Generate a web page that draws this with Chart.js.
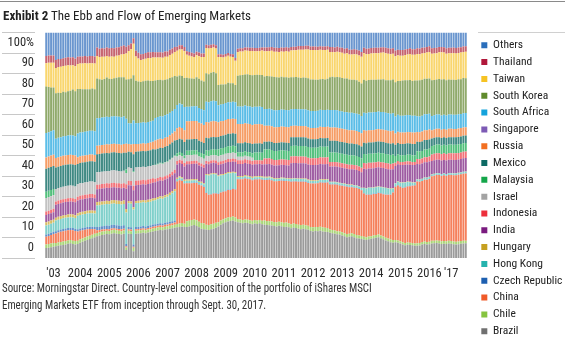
<!DOCTYPE html>
<html>
<head>
<meta charset="utf-8">
<script src="https://cdn.jsdelivr.net/npm/chart.js@4.4.1/dist/chart.umd.min.js"></script>
<style>
  html, body { margin: 0; padding: 0; background: #fff; }
  #wrap { position: relative; width: 565px; height: 344px; overflow: hidden;
          font-family: 'Roboto Condensed', 'Liberation Sans', sans-serif; color: #222; }
  #c { position: absolute; left: 0; top: 0; }
  #rule { position: absolute; left: 0; top: 1px; width: 565px; height: 1px; background: #8a8a8a; }
  #title { position: absolute; left: 3px; top: 9px; font-size: 13px; line-height: 14px; white-space: nowrap; }
  #title b { font-weight: 700; }
  #legendRule { position: absolute; left: 478px; top: 32px; width: 87px; height: 1px; background: #d0d0d0; }
  #note { position: absolute; left: 2px; top: 280px; font-size: 12px; line-height: 17px; color: #333;
          white-space: nowrap; transform: scaleX(0.907); transform-origin: 0 0; }
</style>
</head>
<body>
<div id="wrap">
  <canvas id="c" width="565" height="344"></canvas>
  <div id="rule"></div>
  <div id="title"><b>Exhibit 2</b> The Ebb and Flow of Emerging Markets</div>
  <div id="legendRule"></div>
  <div id="note">Source: Morningstar Direct. Country-level composition of the portfolio of iShares MSCI<br>Emerging Markets ETF from inception through Sept. 30, 2017.</div>
</div>
<script>
// Monthly country weights (%) of the fund, April 2003 through September 2017.
// Each row below is one calendar year (2003 starts in April, 2017 ends in September).

const brazil = [
  4.4, 4.6, 4.8, 5.0, 5.2, 5.4, 5.6, 5.8, 6.0,
  6.3, 6.5, 6.2, 6.0, 6.2, 6.8, 7.2, 7.6, 8.0, 8.4, 8.8, 9.2,
  9.6, 9.9, 10.2, 10.4, 10.6, 10.5, 10.8, 11.0, 10.8, 10.6, 10.4, 10.7,
  3.5, 10.8, 10.6, 3.0, 10.8, 10.9, 11.0, 11.2, 11.0, 11.3, 11.5, 11.8,
  12.0, 12.2, 12.4, 12.3, 12.6, 12.8, 13.0, 13.2, 13.4, 13.6, 13.8, 14.0,
  13.7, 13.8, 14.0, 14.3, 14.6, 14.2, 13.6, 13.0, 12.8, 12.6, 12.4, 12.8,
  13.0, 13.4, 14.0, 14.8, 15.4, 15.8, 16.2, 16.4, 16.6, 16.2, 15.8, 15.6,
  15.4, 15.6, 15.5, 15.2, 15.0, 15.3, 15.1, 15.4, 15.0, 14.8, 14.6, 14.5,
  14.4, 14.2, 14.0, 14.3, 14.1, 13.8, 13.9, 13.6, 13.2, 13.5, 13.3, 13.0,
  12.8, 13.0, 12.7, 12.5, 12.0, 11.8, 12.0, 11.9, 12.1, 11.8, 11.6, 11.5,
  11.2, 11.0, 10.8, 10.5, 10.4, 10.0, 9.6, 9.2, 9.4, 9.6, 9.2, 8.8,
  8.6, 8.4, 8.2, 8.0, 8.3, 8.5, 8.8, 9.0, 9.2, 8.8, 8.3, 7.8,
  7.4, 7.0, 6.8, 7.0, 6.8, 6.4, 6.0, 5.7, 5.9, 5.8, 5.6, 5.4,
  5.4, 5.5, 6.0, 6.2, 6.0, 6.1, 6.4, 6.5, 6.6, 6.4, 6.2, 6.3,
  6.2, 6.4, 6.3, 6.1, 6.0, 6.1, 6.3, 6.4, 6.5
];

const chile = [
  1.6, 1.6, 1.6, 1.6, 1.5, 1.5, 1.5, 1.5, 1.5,
  1.5, 1.5, 1.5, 1.5, 1.5, 1.5, 1.5, 1.5, 1.5, 1.5, 1.5, 1.5,
  1.5, 1.5, 1.5, 1.5, 1.5, 1.5, 1.5, 1.5, 1.5, 1.5, 1.5, 1.5,
  1.2, 1.3, 1.3, 1.5, 1.3, 1.3, 1.3, 1.3, 1.3, 1.3, 1.3, 1.3,
  1.3, 1.3, 1.3, 1.3, 1.3, 1.3, 1.3, 1.3, 1.3, 1.5, 1.5, 1.5,
  1.5, 2.5, 2.5, 2.5, 2.5, 2.5, 2.5, 2.5, 2.5, 2.2, 2.2, 2.2,
  2.2, 2.2, 1.8, 1.8, 1.8, 1.8, 1.8, 1.8, 1.8, 1.8, 1.5, 1.5,
  1.5, 1.5, 1.5, 1.5, 1.5, 1.5, 1.5, 1.5, 1.5, 1.8, 1.8, 1.8,
  1.8, 1.8, 1.8, 1.8, 1.8, 1.8, 1.8, 1.8, 1.8, 1.8, 1.8, 1.8,
  1.8, 1.8, 1.8, 1.8, 1.8, 1.8, 1.8, 1.8, 1.8, 1.8, 1.8, 1.8,
  1.4, 1.4, 1.4, 1.4, 1.4, 1.4, 1.4, 1.4, 1.4, 1.4, 1.4, 1.4,
  1.4, 1.4, 1.2, 1.2, 1.2, 1.2, 1.2, 1.2, 1.2, 1.2, 1.2, 1.2,
  1.2, 1.2, 1.2, 1.0, 1.0, 1.0, 1.0, 1.0, 1.0, 1.0, 1.0, 1.0,
  1.1, 1.1, 1.1, 1.1, 1.1, 1.1, 1.2, 1.2, 1.2, 1.2, 1.2, 1.2,
  1.2, 1.2, 1.2, 1.2, 1.2, 1.2, 1.2, 1.2, 1.2
];

const china = [
  3.4, 3.6, 3.8, 4.0, 4.2, 4.4, 4.5, 4.6, 4.6,
  4.5, 4.4, 4.6, 4.5, 4.0, 3.8, 3.6, 3.4, 3.2, 3.0, 2.6, 2.0,
  1.2, 1.0, 0.9, 0.8, 0.8, 0.8, 0.8, 0.7, 0.7, 0.8, 0.8, 0.8,
  0.5, 0.7, 0.7, 0.5, 0.7, 0.7, 0.7, 0.7, 0.7, 0.7, 0.7, 0.8,
  0.8, 0.8, 0.8, 0.8, 0.8, 0.8, 0.9, 0.9, 1.0, 18.8, 19.2, 18.6,
  17.8, 16.8, 16.6, 16.4, 16.2, 16.6, 16.4, 16.6, 16.2, 14.0, 13.4, 13.2,
  13.4, 13.0, 12.6, 12.4, 12.2, 12.0, 12.2, 12.0, 12.2, 12.4, 17.6, 17.8,
  18.0, 18.2, 18.0, 18.2, 18.0, 18.0, 18.2, 18.0, 18.2, 18.0, 18.2, 18.4,
  18.2, 18.0, 18.2, 18.0, 18.4, 18.6, 18.4, 18.6, 18.8, 18.6, 18.8, 19.0,
  19.2, 19.0, 19.2, 19.0, 19.2, 19.4, 19.2, 19.4, 19.6, 19.8, 20.0, 20.2,
  20.0, 20.2, 20.4, 20.6, 20.4, 20.6, 20.8, 21.0, 20.6, 20.4, 20.6, 20.8,
  20.6, 20.2, 19.2, 18.8, 18.6, 18.4, 18.4, 18.2, 18.4, 18.6, 18.8, 19.0,
  19.4, 19.8, 21.0, 23.6, 24.4, 24.2, 24.0, 24.6, 24.8, 25.0, 25.4, 25.8,
  27.4, 27.2, 27.0, 27.4, 27.6, 27.8, 28.6, 28.8, 29.0, 29.2, 29.0, 29.2,
  29.0, 29.2, 29.3, 29.4, 29.5, 29.6, 29.6, 29.8, 29.8
];

const czechRepublic = [
  1.0, 1.0, 1.0, 1.0, 1.0, 1.0, 1.0, 1.0, 1.0,
  1.0, 1.0, 1.0, 1.0, 1.0, 1.0, 1.0, 1.0, 1.0, 1.0, 1.0, 1.0,
  1.5, 1.5, 1.5, 1.5, 1.5, 1.5, 1.5, 1.5, 1.5, 1.5, 1.5, 1.5,
  1.0, 1.0, 1.0, 1.0, 1.0, 1.0, 1.0, 1.0, 1.0, 1.0, 1.0, 1.0,
  0.9, 0.9, 0.9, 0.9, 0.9, 0.9, 0.9, 0.9, 0.9, 0.3, 0.3, 0.3,
  0.3, 0.2, 0.2, 0.2, 0.2, 0.2, 0.2, 0.2, 0.2, 0.2, 0.2, 0.2,
  0.2, 0.2, 0.2, 0.2, 0.2, 0.2, 0.2, 0.2, 0.2, 0.2, 0.2, 0.2,
  0.2, 0.2, 0.2, 0.2, 0.2, 0.2, 0.2, 0.2, 0.2, 0.2, 0.2, 0.2,
  0.2, 0.2, 0.2, 0.2, 0.2, 0.2, 0.2, 0.2, 0.2, 0.2, 0.2, 0.2,
  0.2, 0.2, 0.2, 0.2, 0.2, 0.2, 0.2, 0.2, 0.2, 0.2, 0.2, 0.2,
  0.2, 0.2, 0.2, 0.2, 0.2, 0.2, 0.2, 0.2, 0.2, 0.2, 0.2, 0.2,
  0.2, 0.2, 0.2, 0.2, 0.2, 0.2, 0.2, 0.2, 0.2, 0.2, 0.2, 0.2,
  0.2, 0.2, 0.2, 0.2, 0.2, 0.2, 0.2, 0.2, 0.2, 0.2, 0.2, 0.2,
  0.1, 0.1, 0.1, 0.1, 0.1, 0.1, 0.1, 0.1, 0.1, 0.1, 0.1, 0.1,
  0.1, 0.1, 0.1, 0.1, 0.1, 0.1, 0.1, 0.1, 0.1
];

const hongKong = [
  4.0, 4.0, 4.0, 4.0, 4.7, 4.7, 4.7, 4.7, 4.7,
  4.7, 4.7, 4.7, 4.7, 6.0, 6.0, 6.0, 6.0, 6.0, 6.0, 6.0, 6.0,
  9.5, 9.5, 9.5, 9.5, 9.5, 9.5, 9.5, 9.5, 9.5, 9.5, 9.5, 9.5,
  14.0, 10.5, 10.5, 15.5, 10.5, 10.5, 10.5, 10.5, 10.5, 10.5, 10.5, 10.5,
  10.6, 10.8, 11.0, 11.0, 11.2, 11.4, 11.8, 12.4, 13.0, 0.8, 0.8, 0.8,
  0.8, 1.0, 1.0, 1.0, 1.0, 1.0, 1.0, 1.0, 1.0, 7.8, 8.4, 8.6,
  8.4, 8.2, 7.6, 7.4, 7.2, 7.4, 7.2, 7.2, 7.0, 7.0, 0.8, 0.8,
  0.8, 0.8, 0.8, 0.8, 0.8, 0.8, 0.8, 0.8, 0.8, 0.8, 0.8, 0.8,
  0.8, 0.8, 0.8, 0.8, 0.8, 0.8, 0.8, 0.8, 1.0, 1.0, 1.0, 1.0,
  1.0, 1.0, 1.0, 1.0, 1.0, 1.0, 1.0, 1.0, 1.0, 1.0, 1.0, 1.0,
  0.8, 0.8, 0.8, 0.8, 0.8, 0.8, 0.8, 0.8, 0.8, 0.8, 0.8, 0.8,
  0.8, 0.8, 2.2, 2.6, 2.8, 2.8, 2.6, 2.8, 2.6, 2.6, 2.8, 2.8,
  2.6, 2.4, 1.6, 1.2, 1.4, 1.6, 2.2, 2.0, 1.8, 1.6, 1.2, 1.0,
  0.8, 0.8, 0.8, 0.8, 0.8, 0.8, 0.7, 0.7, 0.7, 0.7, 0.7, 0.7,
  0.7, 0.7, 0.7, 0.7, 0.7, 0.7, 0.7, 0.7, 0.7
];

const hungary = [
  1.4, 1.4, 1.4, 1.4, 1.3, 1.3, 1.3, 1.3, 1.3,
  1.3, 1.3, 1.3, 1.3, 1.2, 1.2, 1.2, 1.2, 1.2, 1.2, 1.2, 1.2,
  1.5, 1.5, 1.5, 1.5, 1.5, 1.5, 1.5, 1.5, 1.5, 1.5, 1.5, 1.5,
  1.5, 1.0, 1.0, 1.0, 1.0, 1.0, 1.0, 1.0, 1.0, 1.0, 1.0, 1.0,
  1.0, 1.0, 1.0, 1.0, 1.0, 1.0, 1.0, 1.0, 1.0, 0.6, 0.6, 0.6,
  0.6, 0.5, 0.5, 0.5, 0.5, 0.5, 0.5, 0.5, 0.5, 0.5, 0.5, 0.5,
  0.5, 0.5, 0.5, 0.5, 0.5, 0.5, 0.5, 0.5, 0.5, 0.5, 0.5, 0.5,
  0.5, 0.5, 0.5, 0.5, 0.5, 0.5, 0.5, 0.5, 0.5, 0.4, 0.4, 0.4,
  0.4, 0.4, 0.4, 0.4, 0.4, 0.4, 0.4, 0.4, 0.3, 0.3, 0.3, 0.3,
  0.3, 0.3, 0.3, 0.3, 0.3, 0.3, 0.3, 0.3, 0.3, 0.3, 0.3, 0.3,
  0.2, 0.2, 0.2, 0.2, 0.2, 0.2, 0.2, 0.2, 0.2, 0.2, 0.2, 0.2,
  0.2, 0.2, 0.2, 0.2, 0.2, 0.2, 0.2, 0.2, 0.2, 0.2, 0.2, 0.2,
  0.2, 0.2, 0.2, 0.2, 0.2, 0.2, 0.2, 0.2, 0.2, 0.2, 0.2, 0.2,
  0.1, 0.1, 0.1, 0.1, 0.1, 0.1, 0.1, 0.1, 0.1, 0.1, 0.1, 0.1,
  0.1, 0.1, 0.1, 0.1, 0.1, 0.1, 0.1, 0.1, 0.1
];

const india = [
  3.3, 3.3, 3.3, 3.3, 5.7, 5.7, 5.7, 5.7, 5.7,
  5.7, 5.7, 5.7, 5.7, 5.6, 5.6, 5.6, 5.6, 5.6, 5.6, 5.6, 5.6,
  5.7, 5.7, 5.7, 5.7, 5.7, 5.7, 5.7, 5.7, 5.7, 5.7, 5.7, 5.7,
  9.0, 7.0, 7.0, 7.5, 7.0, 7.0, 7.0, 7.0, 7.0, 7.0, 7.0, 7.0,
  7.0, 7.0, 7.0, 7.0, 7.0, 7.0, 7.0, 7.0, 7.0, 5.9, 5.9, 5.9,
  5.9, 6.8, 6.8, 6.8, 6.8, 6.8, 6.8, 6.8, 6.8, 4.5, 4.5, 4.5,
  4.5, 4.5, 4.5, 4.5, 4.5, 4.5, 4.5, 4.5, 4.5, 4.5, 5.3, 5.3,
  5.3, 5.3, 5.3, 5.3, 5.3, 5.3, 5.3, 5.3, 5.3, 5.6, 5.6, 5.6,
  5.6, 5.6, 5.6, 5.6, 5.6, 5.6, 5.6, 5.6, 6.7, 6.7, 6.7, 6.7,
  6.7, 6.7, 6.7, 6.7, 6.7, 6.7, 6.7, 6.7, 6.7, 6.7, 6.7, 6.7,
  6.8, 6.8, 6.8, 6.8, 6.8, 6.8, 6.8, 6.8, 6.8, 6.8, 6.8, 6.8,
  6.8, 6.8, 8.4, 8.4, 8.4, 8.4, 8.4, 8.4, 8.4, 8.4, 8.4, 8.4,
  8.4, 8.4, 8.4, 7.6, 7.6, 7.6, 7.6, 7.6, 7.6, 7.6, 7.6, 7.6,
  6.8, 6.8, 6.8, 6.8, 6.8, 6.8, 5.9, 5.9, 5.9, 5.9, 5.9, 5.9,
  5.9, 5.9, 5.9, 5.9, 5.9, 5.9, 5.9, 5.9, 5.9
];

const indonesia = [
  1.5, 1.5, 1.5, 1.5, 1.5, 1.5, 1.5, 1.5, 1.5,
  1.5, 1.5, 1.5, 1.5, 1.7, 1.7, 1.7, 1.7, 1.7, 1.7, 1.7, 1.7,
  2.0, 2.0, 2.0, 2.0, 2.0, 2.0, 2.0, 2.0, 2.0, 2.0, 2.0, 2.0,
  2.0, 2.0, 2.0, 2.0, 2.0, 2.0, 2.0, 2.0, 2.0, 2.0, 2.0, 2.0,
  1.5, 1.5, 1.5, 1.5, 1.5, 1.5, 1.5, 1.5, 1.5, 1.5, 1.5, 1.5,
  1.5, 1.3, 1.3, 1.3, 1.3, 1.3, 1.3, 1.3, 1.3, 1.2, 1.2, 1.2,
  1.2, 1.2, 1.3, 1.3, 1.3, 1.3, 1.3, 1.3, 1.3, 1.3, 1.7, 1.7,
  1.7, 1.7, 1.7, 1.7, 1.7, 1.7, 1.7, 1.7, 1.7, 2.5, 2.5, 2.5,
  2.5, 2.5, 2.5, 2.5, 2.5, 2.5, 2.5, 2.5, 3.0, 3.0, 3.0, 3.0,
  3.0, 3.0, 3.0, 3.0, 3.0, 3.0, 3.0, 3.0, 3.0, 3.0, 3.0, 3.0,
  2.0, 2.0, 2.0, 2.0, 2.0, 2.0, 2.0, 2.0, 2.0, 2.0, 2.0, 2.0,
  2.0, 2.0, 2.5, 2.5, 2.5, 2.5, 2.5, 2.5, 2.5, 2.5, 2.5, 2.5,
  2.5, 2.5, 2.5, 1.4, 1.4, 1.4, 1.4, 1.4, 1.4, 1.4, 1.4, 1.4,
  2.2, 2.2, 2.2, 2.2, 2.2, 2.2, 2.9, 2.9, 2.9, 2.9, 2.9, 2.9,
  2.9, 2.9, 2.9, 2.9, 2.9, 2.9, 2.9, 2.9, 2.9
];

const israel = [
  6.0, 6.0, 6.0, 6.0, 5.5, 5.5, 5.5, 5.5, 5.5,
  5.5, 5.5, 5.5, 5.5, 5.5, 5.5, 5.5, 5.5, 5.5, 5.5, 5.5, 5.5,
  5.5, 5.5, 5.5, 5.5, 5.5, 5.5, 5.5, 5.5, 5.5, 5.5, 5.5, 5.5,
  5.0, 5.8, 5.8, 6.0, 5.8, 5.8, 5.8, 5.8, 5.8, 5.8, 5.8, 5.8,
  6.0, 6.0, 6.0, 6.0, 6.0, 6.0, 6.0, 6.0, 6.0, 2.0, 2.0, 2.0,
  2.0, 2.7, 2.7, 2.7, 2.7, 2.7, 2.7, 2.7, 2.7, 2.3, 2.3, 2.3,
  2.3, 2.3, 2.7, 2.7, 2.7, 2.7, 2.7, 2.7, 2.7, 2.7, 1.5, 1.5,
  1.5, 1.5, 1.5, 1.5, 1.5, 0, 0, 0, 0, 0, 0, 0,
  0, 0, 0, 0, 0, 0, 0, 0, 0, 0, 0, 0,
  0, 0, 0, 0, 0, 0, 0, 0, 0, 0, 0, 0,
  0, 0, 0, 0, 0, 0, 0, 0, 0, 0, 0, 0,
  0, 0, 0, 0, 0, 0, 0, 0, 0, 0, 0, 0,
  0, 0, 0, 0, 0, 0, 0, 0, 0, 0, 0, 0,
  0, 0, 0, 0, 0, 0, 0, 0, 0, 0, 0, 0,
  0, 0, 0, 0, 0, 0, 0, 0, 0
];

const malaysia = [
  2.8, 2.8, 2.8, 2.8, 0, 0, 0, 0, 0,
  0, 0, 0, 0, 0, 0, 0, 0, 0, 0, 0, 0,
  0, 0, 0, 0, 0, 0, 0, 0, 0, 0, 0, 0,
  1.5, 0, 0, 0.5, 0, 0, 0, 0, 0, 0, 0, 0,
  0.3, 0.3, 0.3, 0.3, 0.3, 0.3, 0.3, 0.3, 0.3, 1.4, 1.4, 1.4,
  1.4, 2.0, 2.0, 2.0, 2.0, 2.0, 2.0, 2.0, 2.0, 2.5, 2.5, 2.5,
  2.5, 2.5, 3.0, 3.0, 3.0, 3.0, 3.0, 3.0, 3.0, 3.0, 2.0, 2.0,
  2.0, 2.0, 2.0, 2.0, 2.0, 3.5, 3.5, 3.5, 3.5, 4.0, 4.0, 4.0,
  4.0, 4.0, 4.0, 4.0, 4.0, 4.0, 4.0, 4.0, 4.7, 4.7, 4.7, 4.7,
  4.7, 4.7, 4.7, 4.7, 4.7, 4.7, 4.7, 4.7, 4.7, 4.7, 4.7, 4.7,
  4.2, 4.2, 4.2, 4.2, 4.2, 4.2, 4.2, 4.2, 4.2, 4.2, 4.2, 4.2,
  4.2, 4.2, 4.0, 4.0, 4.0, 4.0, 4.0, 4.0, 4.0, 4.0, 4.0, 4.0,
  4.0, 4.0, 4.0, 3.0, 3.0, 3.0, 3.0, 3.0, 3.0, 3.0, 3.0, 3.0,
  3.4, 3.4, 3.4, 3.4, 3.4, 3.4, 3.8, 3.8, 3.8, 3.8, 3.8, 3.8,
  3.8, 3.8, 3.8, 3.8, 3.8, 3.8, 3.8, 3.8, 3.8
];

const mexico = [
  10.2, 10.2, 10.2, 10.2, 9.5, 9.5, 9.5, 9.5, 9.5,
  9.5, 9.5, 9.5, 9.5, 9.0, 9.0, 9.0, 9.0, 9.0, 9.0, 9.0, 9.0,
  8.0, 8.0, 8.0, 8.0, 8.0, 8.0, 8.0, 8.0, 8.0, 8.0, 8.0, 8.0,
  7.5, 7.0, 7.0, 7.5, 7.0, 7.0, 7.0, 7.0, 7.0, 7.0, 7.0, 7.0,
  6.7, 6.7, 6.7, 6.7, 6.7, 6.7, 6.7, 6.7, 6.7, 5.9, 5.9, 5.9,
  5.9, 5.0, 5.0, 5.0, 5.0, 5.0, 5.0, 5.0, 5.0, 5.5, 5.5, 5.5,
  5.5, 5.5, 5.5, 5.5, 5.5, 5.5, 5.5, 5.5, 5.5, 5.5, 4.0, 4.0,
  4.0, 4.0, 4.0, 4.0, 4.0, 4.0, 4.0, 4.0, 4.0, 3.5, 3.5, 3.5,
  3.5, 3.5, 3.5, 3.5, 3.5, 3.5, 3.5, 3.5, 3.8, 3.8, 3.8, 3.8,
  3.8, 3.8, 3.8, 3.8, 3.8, 3.8, 3.8, 3.8, 3.8, 3.8, 3.8, 3.8,
  5.2, 5.2, 5.2, 5.2, 5.2, 5.2, 5.2, 5.2, 5.2, 5.2, 5.2, 5.2,
  5.2, 5.2, 5.0, 5.0, 5.0, 5.0, 5.0, 5.0, 5.0, 5.0, 5.0, 5.0,
  5.0, 5.0, 5.0, 5.0, 5.0, 5.0, 5.0, 5.0, 5.0, 5.0, 5.0, 5.0,
  4.2, 4.2, 4.2, 4.2, 4.2, 4.2, 3.3, 3.3, 3.3, 3.3, 3.3, 3.3,
  3.3, 3.3, 3.3, 3.3, 3.3, 3.3, 3.3, 3.3, 3.3
];

const russia = [
  5.0, 5.0, 5.0, 5.0, 4.2, 4.2, 4.2, 4.2, 4.2,
  4.2, 4.2, 4.2, 4.2, 3.0, 3.0, 3.0, 3.0, 3.0, 3.0, 3.0, 3.0,
  3.8, 3.8, 3.8, 3.8, 3.8, 3.8, 3.8, 3.8, 3.8, 3.8, 3.8, 3.8,
  4.0, 3.4, 3.4, 4.5, 3.4, 3.4, 3.4, 3.4, 3.4, 3.4, 3.4, 3.4,
  4.0, 4.0, 4.0, 4.0, 4.0, 4.0, 4.0, 4.0, 4.0, 5.2, 5.2, 5.2,
  5.2, 8.0, 8.0, 8.0, 8.0, 8.0, 8.0, 8.0, 8.0, 7.0, 7.0, 7.0,
  7.0, 7.0, 6.5, 6.5, 6.5, 6.5, 6.5, 6.5, 6.5, 6.5, 8.5, 8.5,
  8.5, 8.5, 8.5, 8.5, 8.5, 8.5, 8.5, 8.5, 8.5, 7.0, 7.0, 7.0,
  7.0, 7.0, 7.0, 7.0, 7.0, 7.0, 7.0, 7.0, 5.0, 5.0, 5.0, 5.0,
  5.0, 5.0, 5.0, 5.0, 5.0, 5.0, 5.0, 5.0, 5.0, 5.0, 5.0, 5.0,
  5.9, 5.9, 5.9, 5.9, 5.9, 5.9, 5.9, 5.9, 5.9, 5.9, 5.9, 5.9,
  5.9, 5.9, 5.5, 5.5, 5.5, 5.5, 5.5, 5.5, 5.5, 5.5, 5.5, 5.5,
  5.5, 5.5, 5.5, 5.0, 5.0, 5.0, 5.0, 5.0, 5.0, 5.0, 5.0, 5.0,
  4.4, 4.4, 4.4, 4.4, 4.4, 4.4, 3.7, 3.7, 3.7, 3.7, 3.7, 3.7,
  3.7, 3.7, 3.7, 3.7, 3.7, 3.7, 3.7, 3.7, 3.7
];

const singapore = [
  0, 0, 0, 0, 0, 0, 0, 0, 0,
  0, 0, 0, 0, 0, 0, 0, 0, 0, 0, 0, 0,
  0, 0, 0, 0, 0, 0, 0, 0, 0, 0, 0, 0,
  0, 0, 0, 0, 0, 0, 0, 0, 0, 0, 0, 0,
  0, 0, 0, 0, 0, 0, 0, 0, 0, 0, 0, 0,
  0, 0, 0, 0, 0, 0, 0, 0, 0, 0, 0, 0,
  0, 0, 0, 0, 0, 0, 0, 0, 0, 0, 0, 0,
  0, 0, 0, 0, 0, 0, 0, 0, 0, 0, 0, 0,
  0, 0, 0, 0, 0, 0, 0, 0, 0, 0, 0, 0,
  0, 0, 0, 0, 0, 0, 0, 0, 0, 0, 0, 0,
  0, 0, 0, 0, 0, 0, 0, 0, 0, 0, 0, 0,
  0, 0, 0, 0, 0, 0, 0, 0, 0, 0, 0, 0,
  0, 0, 0, 0, 0, 0, 0, 0, 0, 0, 0, 0,
  0, 0, 0, 0, 0, 0, 0, 0, 0, 0, 0, 0,
  0, 0, 0, 0, 0, 0, 0, 0, 0
];

const southAfrica = [
  10.8, 10.8, 10.8, 10.8, 8.6, 8.6, 8.6, 8.6, 8.6,
  8.6, 8.6, 8.6, 8.6, 10.5, 10.5, 10.5, 10.5, 10.5, 10.5, 10.5, 10.5,
  12.2, 12.2, 12.2, 12.2, 12.2, 12.2, 12.2, 12.2, 12.2, 12.2, 12.2, 12.2,
  11.0, 9.3, 9.3, 10.5, 9.3, 9.3, 9.3, 9.3, 9.3, 9.3, 9.3, 9.3,
  10.0, 10.0, 10.0, 10.0, 10.0, 10.0, 10.0, 10.0, 10.0, 10.4, 10.4, 10.4,
  10.4, 6.5, 6.5, 6.5, 6.5, 6.5, 6.5, 6.5, 6.5, 9.0, 9.0, 9.0,
  9.0, 9.0, 7.5, 7.5, 7.5, 7.5, 7.5, 7.5, 7.5, 7.5, 7.8, 7.8,
  7.8, 7.8, 7.8, 7.8, 7.8, 7.8, 7.8, 7.8, 7.8, 7.5, 7.5, 7.5,
  7.5, 7.5, 7.5, 7.5, 7.5, 7.5, 7.5, 7.5, 7.5, 7.5, 7.5, 7.5,
  7.5, 7.5, 7.5, 7.5, 7.5, 7.5, 7.5, 7.5, 7.5, 7.5, 7.5, 7.5,
  7.7, 7.7, 7.7, 7.7, 7.7, 7.7, 7.7, 7.7, 7.7, 7.7, 7.7, 7.7,
  7.7, 7.7, 7.8, 7.8, 7.8, 7.8, 7.8, 7.8, 7.8, 7.8, 7.8, 7.8,
  7.8, 7.8, 7.8, 7.5, 7.5, 7.5, 7.5, 7.5, 7.5, 7.5, 7.5, 7.5,
  7.0, 7.0, 7.0, 7.0, 7.0, 7.0, 6.3, 6.3, 6.3, 6.3, 6.3, 6.3,
  6.3, 6.3, 6.3, 6.3, 6.3, 6.3, 6.3, 6.3, 6.3
];

const southKorea = [
  20.6, 20.0, 19.4, 19.0, 20.2, 20.0, 19.6, 19.8, 19.4,
  19.6, 19.8, 20.4, 20.0, 19.8, 19.4, 19.0, 18.8, 18.6, 18.4, 18.8, 18.6,
  17.6, 17.2, 16.8, 17.0, 17.4, 17.0, 16.6, 16.8, 17.2, 17.6, 17.8, 17.4,
  17.5, 19.5, 20.0, 20.0, 18.8, 18.4, 18.0, 18.2, 18.6, 18.4, 18.0, 17.6,
  16.6, 16.4, 16.2, 16.0, 15.8, 15.6, 15.4, 15.0, 14.6, 12.6, 12.4, 12.6,
  12.8, 12.8, 12.6, 12.4, 12.2, 12.8, 13.0, 12.6, 12.8, 12.6, 12.4, 12.6,
  12.8, 12.4, 9.0, 8.8, 8.6, 8.4, 8.6, 8.4, 8.2, 7.6, 13.6, 13.8,
  14.0, 13.8, 14.2, 14.0, 14.2, 14.0, 14.2, 14.0, 14.2, 14.4, 14.6, 14.4,
  14.6, 14.8, 14.6, 14.4, 14.6, 14.4, 14.6, 14.4, 14.2, 14.0, 14.2, 14.0,
  13.8, 14.0, 14.0, 14.2, 14.0, 14.0, 13.8, 13.8, 13.6, 13.8, 13.6, 13.8,
  14.6, 14.8, 14.6, 14.8, 15.0, 14.8, 14.8, 15.0, 14.8, 14.6, 14.8, 14.8,
  14.6, 14.4, 14.6, 14.4, 14.4, 14.6, 14.4, 14.2, 14.2, 14.4, 14.6, 14.4,
  14.6, 14.8, 15.0, 15.2, 15.0, 15.4, 15.6, 15.6, 15.4, 15.6, 15.4, 15.6,
  15.8, 16.0, 16.0, 15.8, 15.8, 15.6, 15.8, 15.6, 15.6, 15.8, 16.0, 15.8,
  15.6, 15.6, 15.4, 15.6, 15.4, 15.6, 15.4, 15.6, 15.4
];

const taiwan = [
  10.4, 10.8, 11.0, 11.0, 11.2, 11.4, 11.6, 11.4, 11.8,
  11.6, 11.2, 10.8, 11.0, 11.0, 11.2, 11.4, 11.6, 11.4, 11.6, 11.2, 11.4,
  10.0, 9.8, 10.2, 9.8, 9.6, 9.8, 10.0, 9.6, 9.8, 9.6, 10.0, 10.4,
  11.5, 12.5, 13.0, 14.0, 10.8, 10.2, 9.8, 9.6, 9.8, 10.0, 10.2, 10.4,
  10.2, 10.0, 9.8, 10.0, 10.2, 10.0, 10.2, 10.4, 10.6, 11.4, 11.6, 11.8,
  12.0, 10.2, 10.0, 9.8, 9.6, 9.8, 10.0, 10.4, 10.8, 11.2, 11.4, 11.0,
  10.8, 11.0, 12.4, 12.2, 12.0, 12.2, 12.0, 11.8, 11.6, 10.8, 10.6, 10.6,
  10.4, 10.6, 10.4, 10.6, 10.8, 10.6, 10.4, 10.6, 10.8, 11.2, 11.0, 11.2,
  11.4, 11.2, 11.4, 11.4, 11.2, 11.4, 11.6, 11.6, 11.8, 12.0, 11.8, 12.4,
  12.6, 12.4, 12.6, 12.8, 13.0, 13.0, 13.2, 13.0, 13.0, 12.8, 13.0, 12.8,
  11.2, 11.0, 11.0, 11.2, 11.0, 11.2, 11.0, 11.2, 11.0, 11.2, 11.4, 11.4,
  11.6, 11.8, 11.8, 11.8, 11.6, 11.6, 11.8, 11.8, 11.6, 11.8, 11.8, 12.0,
  11.8, 11.6, 11.4, 11.6, 11.4, 11.2, 11.0, 11.2, 11.4, 11.6, 11.6, 11.4,
  11.8, 11.6, 11.6, 11.4, 11.6, 11.8, 11.8, 11.8, 11.6, 11.8, 12.0, 11.8,
  11.8, 11.6, 11.8, 11.8, 11.8, 11.6, 11.8, 11.6, 11.8
];

const thailand = [
  3.2, 3.2, 3.2, 3.2, 3.5, 3.5, 3.5, 3.5, 3.5,
  3.5, 3.5, 3.5, 3.5, 3.2, 3.2, 3.2, 3.2, 3.2, 3.2, 3.2, 3.2,
  3.7, 3.7, 3.7, 3.7, 3.7, 3.7, 3.7, 3.7, 3.7, 3.7, 3.7, 3.7,
  3.0, 2.5, 2.5, 2.5, 2.5, 2.5, 2.5, 2.5, 2.5, 2.5, 2.5, 2.5,
  2.3, 2.3, 2.3, 2.3, 2.3, 2.3, 2.3, 2.3, 2.3, 1.8, 1.8, 1.8,
  1.8, 1.6, 1.6, 1.6, 1.6, 1.6, 1.6, 1.6, 1.6, 1.5, 1.5, 1.5,
  1.5, 1.5, 1.2, 1.2, 1.2, 1.2, 1.2, 1.2, 1.2, 1.2, 1.4, 1.4,
  1.4, 1.4, 1.4, 1.4, 1.4, 1.4, 1.4, 1.4, 1.4, 1.7, 1.7, 1.7,
  1.7, 1.7, 1.7, 1.7, 1.7, 1.7, 1.7, 1.7, 1.6, 1.6, 1.6, 1.6,
  1.6, 1.6, 1.6, 1.6, 1.6, 1.6, 1.6, 1.6, 1.6, 1.6, 1.6, 1.6,
  2.2, 2.2, 2.2, 2.2, 2.2, 2.2, 2.2, 2.2, 2.2, 2.2, 2.2, 2.2,
  2.2, 2.2, 2.4, 2.4, 2.4, 2.4, 2.4, 2.4, 2.4, 2.4, 2.4, 2.4,
  2.4, 2.4, 2.4, 2.5, 2.5, 2.5, 2.5, 2.5, 2.5, 2.5, 2.5, 2.5,
  2.5, 2.5, 2.5, 2.5, 2.5, 2.5, 2.4, 2.4, 2.4, 2.4, 2.4, 2.4,
  2.4, 2.4, 2.4, 2.4, 2.4, 2.4, 2.4, 2.4, 2.4
];

const others = [
  10.4, 10.2, 10.2, 10.2, 12.2, 11.8, 11.7, 11.4, 11.2,
  11.0, 11.1, 11.0, 11.5, 10.8, 10.6, 10.6, 10.4, 10.6, 10.4, 10.4, 10.6,
  6.7, 7.2, 7.0, 7.1, 6.7, 7.0, 6.9, 7.0, 6.6, 6.5, 6.1, 5.8,
  6.3, 5.7, 4.9, 2.5, 8.1, 9.0, 9.7, 9.5, 9.1, 8.8, 8.8, 8.6,
  8.8, 8.8, 8.8, 8.9, 8.4, 8.4, 7.7, 7.1, 6.4, 6.3, 5.7, 5.7,
  6.4, 8.3, 8.7, 9.0, 9.3, 8.5, 8.9, 9.3, 9.3, 5.4, 5.6, 5.4,
  5.2, 5.6, 9.7, 9.7, 9.9, 9.5, 9.1, 9.5, 9.7, 11.3, 7.2, 7.0,
  7.0, 6.6, 6.7, 6.8, 6.8, 6.9, 6.9, 6.8, 6.6, 6.6, 6.6, 6.5,
  6.4, 6.8, 6.8, 6.9, 6.7, 6.8, 6.5, 6.8, 6.4, 6.3, 6.3, 6.0,
  6.0, 6.0, 5.9, 5.9, 6.2, 6.2, 6.2, 6.3, 6.1, 6.2, 6.2, 6.1,
  6.4, 6.4, 6.6, 6.3, 6.6, 6.8, 7.2, 7.0, 7.6, 7.6, 7.4, 7.6,
  8.0, 8.6, 6.8, 7.2, 7.1, 6.9, 6.8, 6.8, 6.8, 6.6, 6.5, 6.8,
  7.0, 7.2, 7.0, 8.0, 7.6, 7.8, 7.8, 7.5, 7.3, 7.0, 7.4, 7.4,
  7.0, 7.1, 6.8, 6.6, 6.4, 6.1, 7.0, 6.9, 6.8, 6.4, 6.4, 6.5,
  7.0, 6.8, 6.8, 6.7, 6.9, 6.7, 6.5, 6.2, 6.1
];

// Axis text: one year label per calendar year, shown on the month listed beside it
const yTickLabels = ['100%', '90', '80', '70', '60', '50', '40', '30', '20', '10', '0'];
const xTickLabels = ["'03", '2004', '2005', '2006', '2007', '2008', '2009', '2010',
                     '2011', '2012', '2013', '2014', '2015', '2016', "'17"];
const xTickMonths = ['2003-07', '2004-06', '2005-06', '2006-06', '2007-06', '2008-06', '2009-06', '2010-06',
                     '2011-06', '2012-06', '2013-06', '2014-06', '2015-06', '2016-06', '2017-03'];

// Series in stacking order, bottom to top
const series = [
  ['Brazil', brazil], ['Chile', chile], ['China', china], ['Czech Republic', czechRepublic],
  ['Hong Kong', hongKong], ['Hungary', hungary], ['India', india], ['Indonesia', indonesia],
  ['Israel', israel], ['Malaysia', malaysia], ['Mexico', mexico], ['Russia', russia],
  ['Singapore', singapore], ['South Africa', southAfrica], ['South Korea', southKorea],
  ['Taiwan', taiwan], ['Thailand', thailand], ['Others', others]
];

// Legend swatch colours and the softer fills used for the columns
const swatch = {
  'Brazil': '#707070', 'Chile': '#86c440', 'China': '#f05a28', 'Czech Republic': '#1d5fb0',
  'Hong Kong': '#25b2ad', 'Hungary': '#c6a020', 'India': '#7a1b7f', 'Indonesia': '#ec2f3b',
  'Israel': '#a3a3a3', 'Malaysia': '#14a64a', 'Mexico': '#0d6a64', 'Russia': '#f26f21',
  'Singapore': '#7d5ab5', 'South Africa': '#14a3dc', 'South Korea': '#5f8a2b',
  'Taiwan': '#f6c323', 'Thailand': '#b0173a', 'Others': '#2a6ebb'
};
const fill = {
  'Brazil': '#9b9b9b', 'Chile': '#aad679', 'China': '#f5805c', 'Czech Republic': '#618fc8',
  'Hong Kong': '#80d0cb', 'Hungary': '#d7bd63', 'India': '#9e5ca2', 'Indonesia': '#f2737a',
  'Israel': '#c2c2c2', 'Malaysia': '#52c07c', 'Mexico': '#3f8983', 'Russia': '#f69d66',
  'Singapore': '#a48bcb', 'South Africa': '#5bbde7', 'South Korea': '#90aa6b',
  'Taiwan': '#f9d66e', 'Thailand': '#c6636f', 'Others': '#6a96cf'
};

// Month categories, April 2003 to September 2017
const months = [];
for (let y = 2003, m = 4; y < 2017 || (y === 2017 && m <= 9);) {
  months.push(y + '-' + String(m).padStart(2, '0'));
  if (++m > 12) { m = 1; y++; }
}
const xTickAt = {};
xTickMonths.forEach((mo, k) => { xTickAt[months.indexOf(mo)] = xTickLabels[k]; });

const FONT = "'Roboto Condensed', 'Liberation Sans', sans-serif";
Chart.defaults.font.family = FONT;
Chart.defaults.font.size = 12;
Chart.defaults.color = '#2a2a2a';

new Chart(document.getElementById('c'), {
  type: 'bar',
  data: {
    labels: months,
    datasets: series.map(([name, values]) => ({
      label: name,
      data: values,
      backgroundColor: fill[name],
      borderWidth: 0,
      barPercentage: 0.8,
      categoryPercentage: 1.0,
      yAxisID: 'y'
    }))
  },
  options: {
    responsive: false,
    animation: false,
    devicePixelRatio: 1,
    layout: { padding: { top: 32.5, bottom: 0, left: 0, right: 0 } },
    scales: {
      x: {
        stacked: true,
        grid: { display: false },
        border: { display: false },
        ticks: {
          autoSkip: false, maxRotation: 0, minRotation: 0, padding: 0,
          font: { size: 12.5 },
          callback: (value, index) => xTickAt[index] || ''
        },
        afterFit: (scale) => { scale.height = 86; }
      },
      y: {
        stacked: true, min: 0, max: 100, position: 'right',
        ticks: { display: false },
        grid: { display: false },
        border: { display: false },
        afterFit: (scale) => { scale.width = 9; }
      },
      yl: {
        type: 'category', labels: yTickLabels, position: 'left', offset: true,
        grid: {
          offset: true, drawOnChartArea: false, drawTicks: true, tickLength: 43,
          tickColor: '#c8c8c8', tickWidth: 1, tickBorderDash: [33, 40]
        },
        border: { display: false },
        ticks: { padding: -32, font: { size: 12.5 } },
        afterFit: (scale) => { scale.width = 45; }
      }
    },
    plugins: {
      tooltip: { enabled: false },
      legend: {
        position: 'right', align: 'center', reverse: true, maxWidth: 89,
        labels: {
          boxWidth: 6, boxHeight: 6, padding: 5.32, color: '#222',
          font: { size: 11.5 },
          generateLabels: (chart) => Chart.defaults.plugins.legend.labels.generateLabels(chart)
            .map(item => Object.assign(item, {
              fillStyle: swatch[item.text], strokeStyle: swatch[item.text], lineWidth: 0
            }))
        }
      }
    }
  }
});
</script>
</body>
</html>
